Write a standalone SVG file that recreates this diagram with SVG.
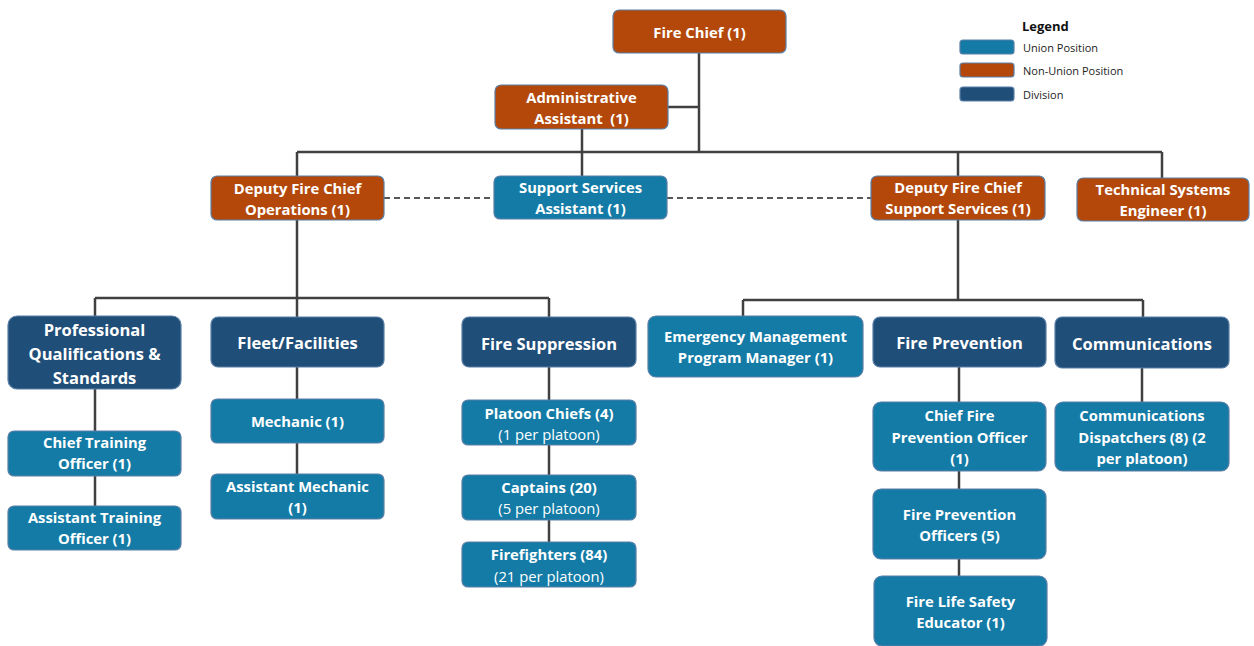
<svg xmlns="http://www.w3.org/2000/svg" width="1254" height="646" viewBox="0 0 1254 646">
<style>
.bx{stroke:#5a7fa6;stroke-width:1.2}
.o{fill:#B3480A}
.u{fill:#137BA6}
.d{fill:#1F4E79}
text{font-family:"Open Sans","Liberation Sans",sans-serif;font-weight:bold;fill:#fff;text-anchor:middle;dominant-baseline:central}
.t{font-size:14.8px}
.dv{font-size:16.5px}
.n{font-weight:normal}
.ln{stroke:#404040;stroke-width:2.5;fill:none}
.ds{stroke:#202020;stroke-width:1.6;stroke-dasharray:6 4;fill:none}
.lg{fill:#222;text-anchor:start;font-weight:normal;font-size:11px}
</style>
<g id="connectors">
<path class="ln" d="M699 53V152M668 107H699M582 129V176M297 152H1162M297 152V176M958 152V176M1162 152V178"/>
<path class="ds" d="M384 198H494M667 198H871"/>
<path class="ln" d="M297 220V298M95 298H549M95 298V316M297 298V317M549 298V317"/>
<path class="ln" d="M958 220V300M743 300H1143M743 300V316M1143 300V317"/>
<path class="ln" d="M95 389V431M95 476V506M297 367V399M297 443V474M549 367V400M549 445V475M549 520V542M959 367V402M959 471V489M959 559V576M1142 368V402"/>
</g>
<g id="legend">
<text x="1022" y="26" style="fill:#111;text-anchor:start;font-size:13px">Legend</text>
<rect x="960" y="40" width="54" height="14" rx="3" class="u bx"/>
<rect x="960" y="63" width="54" height="14" rx="3" class="o bx"/>
<rect x="960" y="87" width="54" height="14" rx="3" class="d bx"/>
<text x="1023" y="47" class="lg">Union Position</text>
<text x="1023" y="70" class="lg">Non-Union Position</text>
<text x="1023" y="94" class="lg">Division</text>
</g>
<g id="fire-chief"><rect x="613" y="10" width="173" height="43" rx="6" class="o bx"/><text class="t" x="699.5" y="32">Fire Chief (1)</text></g>
<g id="admin-assistant"><rect x="495" y="85" width="173" height="44" rx="6" class="o bx"/><text class="t" x="581.5" y="97">Administrative</text><text class="t" x="581.5" y="118" xml:space="preserve">Assistant  (1)</text></g>
<g id="deputy-ops"><rect x="211" y="176" width="173" height="44" rx="6" class="o bx"/><text class="t" x="297.5" y="188">Deputy Fire Chief</text><text class="t" x="297.5" y="209">Operations (1)</text></g>
<g id="support-services-assistant"><rect x="494" y="176" width="173" height="43" rx="6" class="u bx"/><text class="t" x="580.5" y="187">Support Services</text><text class="t" x="580.5" y="208">Assistant (1)</text></g>
<g id="deputy-support"><rect x="871" y="176" width="174" height="44" rx="6" class="o bx"/><text class="t" x="958" y="187">Deputy Fire Chief</text><text class="t" x="958" y="208">Support Services (1)</text></g>
<g id="tech-systems"><rect x="1077" y="178" width="172" height="43" rx="6" class="o bx"/><text class="t" x="1163" y="189">Technical Systems</text><text class="t" x="1163" y="210">Engineer (1)</text></g>
<g id="professional"><rect x="8" y="316" width="173" height="73" rx="9" class="d bx"/><text class="dv" x="94.5" y="329">Professional</text><text class="dv" x="94.5" y="353">Qualifications &amp;</text><text class="dv" x="94.5" y="377">Standards</text></g>
<g id="fleet"><rect x="211" y="317" width="173" height="50" rx="7" class="d bx"/><text class="dv" x="297.5" y="342">Fleet/Facilities</text></g>
<g id="fire-suppression"><rect x="462" y="317" width="174" height="50" rx="7" class="d bx"/><text class="dv" x="549" y="343">Fire Suppression</text></g>
<g id="emergency-mgmt"><rect x="648" y="316" width="215" height="61" rx="8" class="u bx"/><text class="t" x="755.5" y="336">Emergency Management</text><text class="t" x="755.5" y="357">Program Manager (1)</text></g>
<g id="fire-prevention"><rect x="873" y="317" width="173" height="50" rx="7" class="d bx"/><text class="dv" x="959.5" y="342">Fire Prevention</text></g>
<g id="communications"><rect x="1055" y="317" width="174" height="51" rx="7" class="d bx"/><text class="dv" x="1142" y="343">Communications</text></g>
<g id="chief-training"><rect x="8" y="431" width="173" height="45" rx="6" class="u bx"/><text class="t" x="94.5" y="442">Chief Training</text><text class="t" x="94.5" y="463">Officer (1)</text></g>
<g id="assistant-training"><rect x="8" y="506" width="173" height="44" rx="6" class="u bx"/><text class="t" x="94.5" y="517">Assistant Training</text><text class="t" x="94.5" y="538">Officer (1)</text></g>
<g id="mechanic"><rect x="211" y="399" width="173" height="44" rx="6" class="u bx"/><text class="t" x="297.5" y="421">Mechanic (1)</text></g>
<g id="assistant-mechanic"><rect x="211" y="474" width="173" height="45" rx="6" class="u bx"/><text class="t" x="297.5" y="486">Assistant Mechanic</text><text class="t" x="297.5" y="507">(1)</text></g>
<g id="platoon-chiefs"><rect x="462" y="400" width="174" height="45" rx="6" class="u bx"/><text class="t" x="549" y="413">Platoon Chiefs (4)</text><text class="t n" x="549" y="434">(1 per platoon)</text></g>
<g id="captains"><rect x="462" y="475" width="174" height="45" rx="6" class="u bx"/><text class="t" x="549" y="487">Captains (20)</text><text class="t n" x="549" y="508">(5 per platoon)</text></g>
<g id="firefighters"><rect x="462" y="542" width="174" height="45" rx="6" class="u bx"/><text class="t" x="549" y="554">Firefighters (84)</text><text class="t n" x="549" y="576">(21 per platoon)</text></g>
<g id="chief-fire-prevention"><rect x="873" y="402" width="173" height="69" rx="8" class="u bx"/><text class="t" x="959.5" y="415">Chief Fire</text><text class="t" x="959.5" y="437">Prevention Officer</text><text class="t" x="959.5" y="458">(1)</text></g>
<g id="fire-prevention-officers"><rect x="873" y="489" width="173" height="70" rx="8" class="u bx"/><text class="t" x="959.5" y="514">Fire Prevention</text><text class="t" x="959.5" y="535">Officers (5)</text></g>
<g id="fire-life-safety"><rect x="874" y="576" width="173" height="70" rx="8" class="u bx"/><text class="t" x="960.5" y="601">Fire Life Safety</text><text class="t" x="960.5" y="622">Educator (1)</text></g>
<g id="comm-dispatchers"><rect x="1055" y="402" width="174" height="69" rx="8" class="u bx"/><text class="t" x="1142" y="415">Communications</text><text class="t" x="1142" y="437">Dispatchers (8) (2</text><text class="t" x="1142" y="458">per platoon)</text></g>
</svg>
